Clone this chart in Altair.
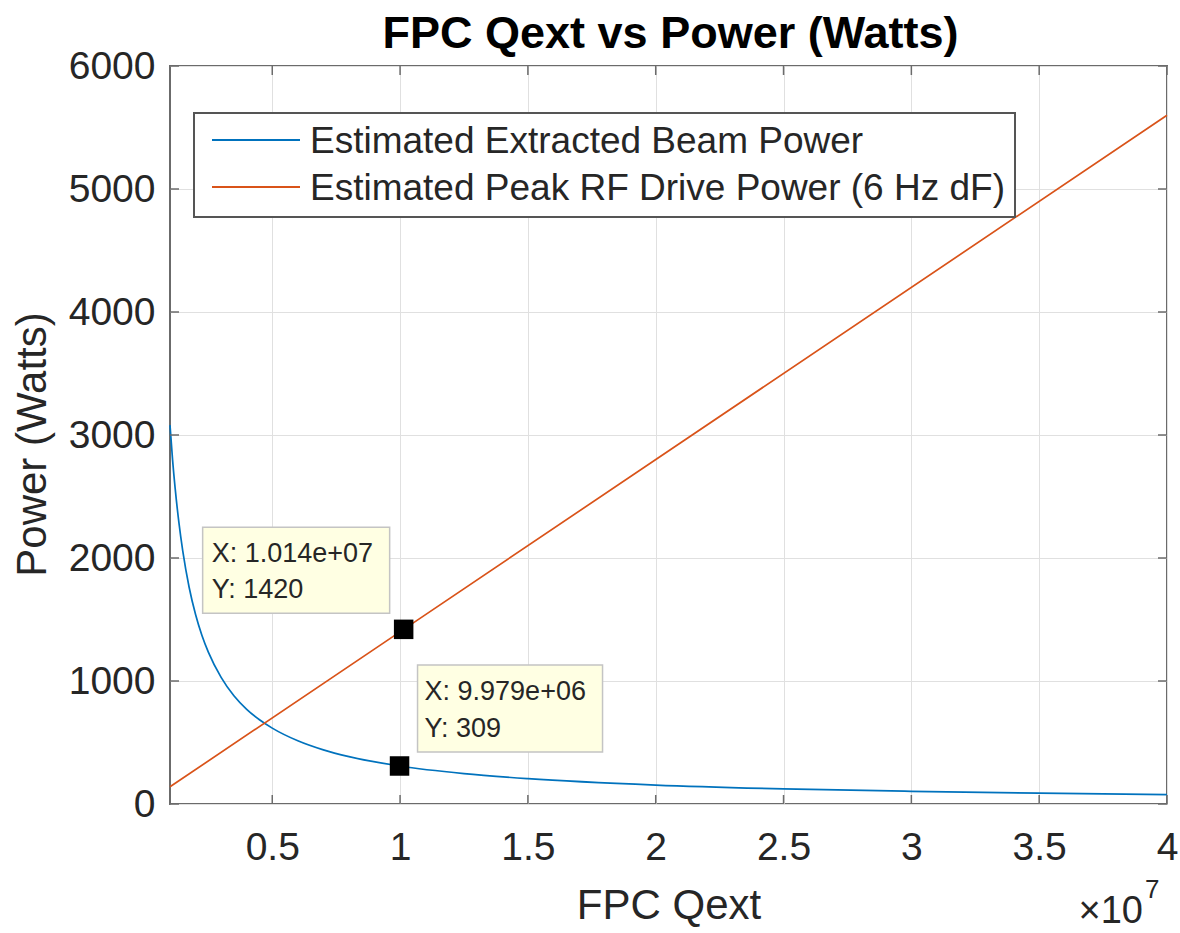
import altair as alt
import pandas as pd

# Estimated extracted beam power (W) against FPC Qext
beam_qext = [1.0e6, 1.1e6, 1.2e6, 1.35e6, 1.5e6, 1.75e6, 2.0e6, 2.25e6, 2.5e6,
             3.0e6, 3.5e6, 4.0e6, 4.5e6, 5.0e6, 6.0e6, 7.0e6, 8.0e6, 9.979e6,
             1.25e7, 1.5e7, 2.0e7, 2.5e7, 3.0e7, 3.5e7, 4.0e7]
beam_power = [3080, 2800, 2570, 2285, 2055, 1760, 1540, 1370, 1235,
              1030, 880, 770, 685, 617, 514, 440, 385, 309,
              247, 206, 154, 123, 103, 88, 77]

# Estimated peak RF drive power (W) for 6 Hz detuning
drive_qext = [1.0e6, 1.014e7, 4.0e7]
drive_power = [140, 1420, 5600]

series_names = ["Estimated Extracted Beam Power",
                "Estimated Peak RF Drive Power (6 Hz dF)"]
series_colors = ["#0072BD", "#D95319"]

# Data cursor readouts
tip_qext = [1.014e7, 9.979e6]
tip_power = [1420, 309]
tip_xtext = ["X: 1.014e+07", "X: 9.979e+06"]
tip_ytext = ["Y: 1420", "Y: 309"]

x_ticks = [5e6, 1e7, 1.5e7, 2e7, 2.5e7, 3e7, 3.5e7, 4e7]
y_ticks = [0, 1000, 2000, 3000, 4000, 5000, 6000]

W, H = 997, 738
FONT = "Liberation Sans"
TXT = "#262626"
AXC = "#6b6b6b"

beam_df = pd.DataFrame({"qext": beam_qext, "power": beam_power})
drive_df = pd.DataFrame({"qext": drive_qext, "power": drive_power})
xt_df = pd.DataFrame({"qext": x_ticks})
yt_df = pd.DataFrame({"power": y_ticks})

xscale = alt.Scale(domain=[1e6, 4e7], nice=False, zero=False)
yscale = alt.Scale(domain=[0, 6000], nice=False)

x_axis = alt.Axis(
    values=x_ticks, labelExpr="format(datum.value / 1e7, '~g')",
    grid=True, gridColor="#e0e0e0", gridWidth=1, domain=False,
    ticks=False, tickSize=0, labelPadding=24, labelFontSize=39,
    labelFont=FONT, labelColor=TXT, title="FPC Qext", titleFont=FONT,
    titleFontSize=42, titleFontWeight="normal", titleColor=TXT,
    titleBaseline="alphabetic", titleY=114, labelFlush=False,
)
y_axis = alt.Axis(
    values=y_ticks, format="d", grid=True, gridColor="#e0e0e0", gridWidth=1,
    domain=False, ticks=False, tickSize=0, labelPadding=15,
    labelFontSize=39, labelFont=FONT, labelColor=TXT,
    title="Power (Watts)", titleFont=FONT, titleFontSize=42,
    titleFontWeight="normal", titleColor=TXT, titleBaseline="alphabetic",
    titleX=-125, titleY=378, labelFlush=False,
)


def X():
    return alt.X("qext:Q", scale=xscale, axis=x_axis)


def Y():
    return alt.Y("power:Q", scale=yscale, axis=y_axis)


beam = alt.Chart(beam_df).mark_line(
    color=series_colors[0], strokeWidth=1.7, interpolate="monotone"
).encode(x=X(), y=Y())

drive = alt.Chart(drive_df).mark_line(
    color=series_colors[1], strokeWidth=1.7
).encode(x=X(), y=Y())

# Inward tick marks on all four sides of the box
tk = dict(color=AXC, strokeWidth=1.5)
ticks_bottom = alt.Chart(xt_df).mark_rule(**tk).encode(
    x=X(), y=alt.value(H - 9), y2=alt.value(H))
ticks_top = alt.Chart(xt_df).mark_rule(**tk).encode(
    x=X(), y=alt.value(0), y2=alt.value(9))
ticks_left = alt.Chart(yt_df).mark_rule(**tk).encode(
    y=Y(), x=alt.value(0), x2=alt.value(9))
ticks_right = alt.Chart(yt_df).mark_rule(**tk).encode(
    y=Y(), x=alt.value(W - 9), x2=alt.value(W))


def datatip(i, box, tx, ty1, ty2):
    df = pd.DataFrame({"qext": [tip_qext[i]], "power": [tip_power[i]],
                       "xl": [tip_xtext[i]], "yl": [tip_ytext[i]]})
    base = alt.Chart(df)
    rect = base.mark_rect(
        fill="#FFFFE3", stroke="#c4c4c4", strokeWidth=1.5,
        xOffset=box[0], x2Offset=box[1], yOffset=box[2], y2Offset=box[3],
    ).encode(x=X(), x2="qext:Q", y=Y(), y2="power:Q")
    txt = dict(font=FONT, fontSize=27, color=TXT, align="left",
               baseline="alphabetic", dx=tx)
    t1 = base.mark_text(dy=ty1, **txt).encode(x=X(), y=Y(), text="xl:N")
    t2 = base.mark_text(dy=ty2, **txt).encode(x=X(), y=Y(), text="yl:N")
    sq = base.mark_square(size=380, color="black", opacity=1).encode(x=X(), y=Y())
    return [rect, t1, t2, sq]


tip1 = datatip(0, (-201, -14, -102, -16), -192, -67, -31)
tip2 = datatip(1, (18, 203, -101, -14), 25, -66, -29)

# Legend box drawn in the upper left of the axes
one = beam_df.head(1)
leg_box = alt.Chart(one).mark_rect(
    fill="white", stroke="#555555", strokeWidth=2
).encode(x=alt.value(24), x2=alt.value(845), y=alt.value(47), y2=alt.value(151))
leg_items = []
for name, col, yy in zip(series_names, series_colors, [74, 121]):
    leg_items.append(alt.Chart(one).mark_rule(
        color=col, strokeWidth=2).encode(
        x=alt.value(42), x2=alt.value(130), y=alt.value(yy)))
    leg_items.append(alt.Chart(one).mark_text(
        text=name, font=FONT, fontSize=37, color=TXT, align="left",
        baseline="middle").encode(x=alt.value(140), y=alt.value(yy + 2)))

title = alt.Chart(one).mark_text(
    text="FPC Qext vs Power (Watts)", font=FONT, fontSize=45,
    fontWeight="bold", color="black", align="center", baseline="alphabetic"
).encode(x=alt.value(W / 2 + 2), y=alt.value(-18))

# Axis exponent
exp_base = alt.Chart(one).mark_text(
    text="×10", font=FONT, fontSize=38, color=TXT, align="right",
    baseline="alphabetic").encode(x=alt.value(973), y=alt.value(857))
exp_pow = alt.Chart(one).mark_text(
    text="7", font=FONT, fontSize=26, color=TXT, align="left",
    baseline="alphabetic").encode(x=alt.value(975), y=alt.value(832))

chart = alt.layer(
    beam, drive, ticks_bottom, ticks_top, ticks_left, ticks_right,
    *tip1, *tip2, leg_box, *leg_items, title, exp_base, exp_pow,
).properties(
    width=W, height=H,
    autosize=alt.AutoSizeParams(type="none"),
    padding={"left": 170, "top": 66, "right": 13, "bottom": 129},
    background="white",
).configure_view(stroke=AXC, strokeWidth=2)

chart.save("out.html", embed_options={"renderer": "svg", "actions": False})
